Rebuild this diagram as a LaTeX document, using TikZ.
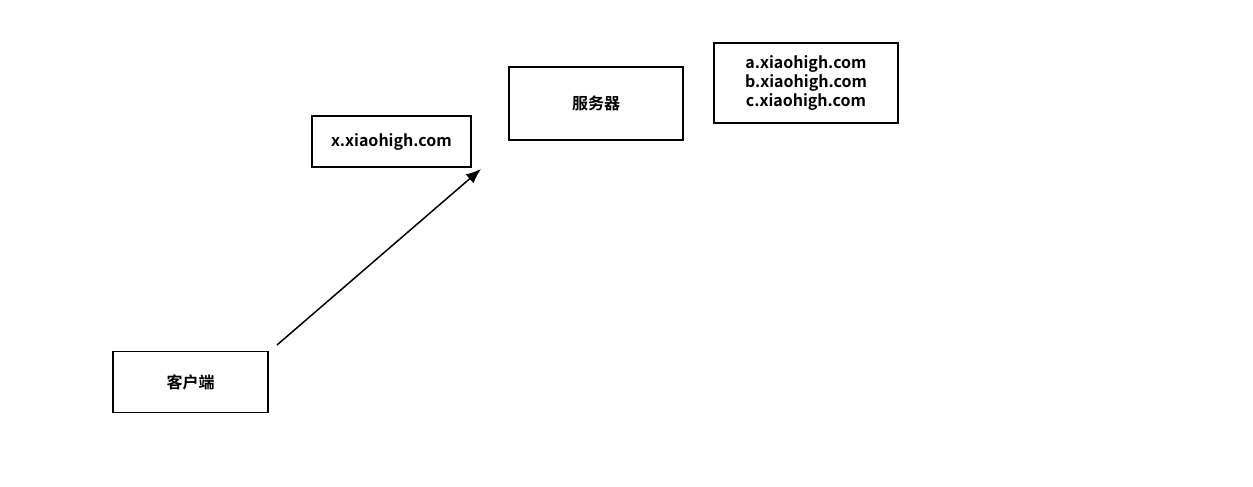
\documentclass[tikz,border=0pt]{standalone}
\usepackage{fontspec}
\setmainfont{Noto Sans CJK SC}[BoldFont={Noto Sans CJK SC Bold}]
\usetikzlibrary{arrows.meta}

\begin{document}
\begin{tikzpicture}[x=1pt,y=-1pt]
  \tikzstyle{BoxStyle}=[draw,line width=1.5pt,font=\fontsize{16}{19}\selectfont\bfseries,align=center,inner sep=0pt]
  \tikzstyle{EdgeStyle}=[line width=1.5pt,-{Latex[length=15pt,width=12pt]}]
  \useasboundingbox (0,0) rectangle (1253,487);
  \node[BoxStyle,minimum width=155,minimum height=61] (client) at (190.5,382) {客户端};
  \node[BoxStyle,minimum width=159,minimum height=51] (xdomain) at (391.5,141.5) {x.xiaohigh.com};
  \node[BoxStyle,minimum width=174,minimum height=73] (server) at (596,103.5) {服务器};
  \node[BoxStyle,minimum width=184,minimum height=80] (domains) at (806,83) {a.xiaohigh.com\\b.xiaohigh.com\\c.xiaohigh.com};
  \coordinate (from) at (277,345);
  \coordinate (to) at (481,169);
  \draw[EdgeStyle] (from) -- (to);
\end{tikzpicture}
\end{document}
